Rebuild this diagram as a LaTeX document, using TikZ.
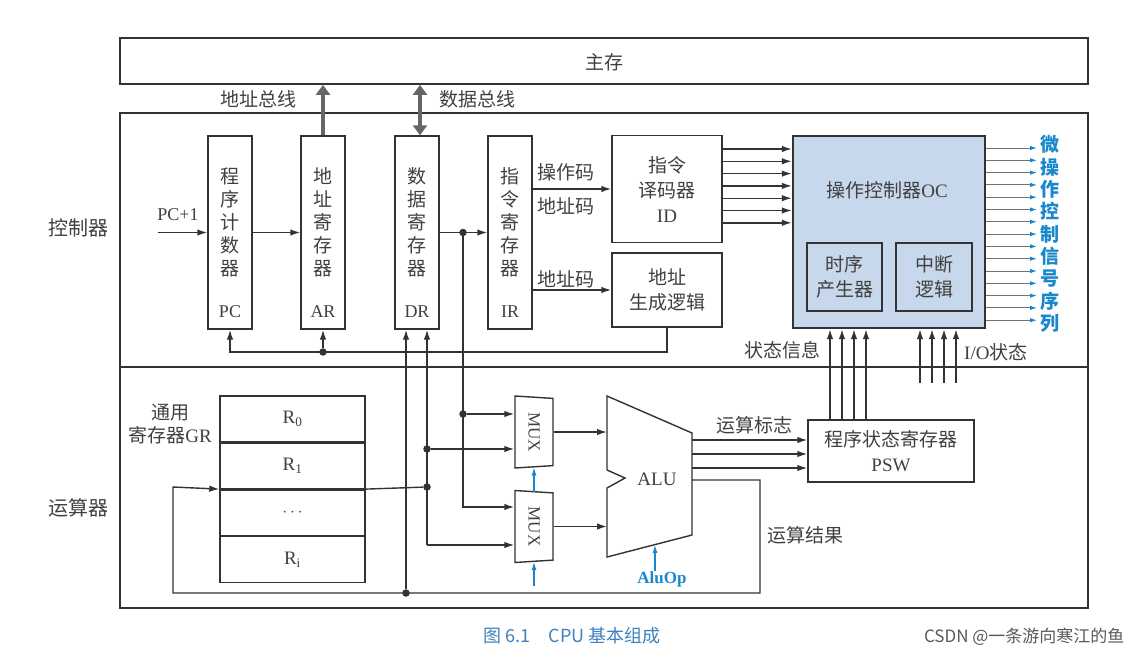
\documentclass[tikz,border=0pt]{standalone}
\usepackage{fontspec}
\setmainfont{Liberation Serif}
\newfontfamily\cjk{Noto Sans CJK SC}
\usetikzlibrary{arrows.meta,positioning,shapes.geometric}
\definecolor{sigblue}{RGB}{25,135,205}
\definecolor{ocfill}{RGB}{200,216,236}
\definecolor{capblue}{RGB}{60,130,190}
\tikzset{
  frame/.style={draw, line width=1.8pt, inner sep=0pt},
  reg/.style={draw, line width=1.4pt, minimum width=44pt, minimum height=193pt, inner sep=0pt},
  blk/.style={draw, line width=1.4pt, inner sep=0pt, align=center, font=\cjk\fontsize{19}{25}\selectfont},
  zh/.style={font=\cjk\fontsize{19}{23}\selectfont, align=center, inner sep=0pt},
  en/.style={font=\fontsize{18}{22}\selectfont, inner sep=0pt},
  sig/.style={line width=1.4pt, -{Latex[length=10pt,width=6.5pt]}},
  bsig/.style={line width=1.1pt, sigblue, -{Latex[length=8pt,width=5pt]}},
  bus/.style={line width=4.5pt, black!60},
  dot/.style={circle, fill, inner sep=0pt, minimum size=7.5pt},
  mux/.style={draw, line width=1.4pt, trapezium, trapezium stretches body, trapezium angle=78,
    minimum width=72pt, minimum height=38pt, rotate=-90, inner sep=0pt, font=\fontsize{17}{17}\selectfont},
  gr/.style={draw, line width=1.4pt, minimum width=145pt, minimum height=45.5pt, inner sep=0pt, font=\fontsize{19}{19}\selectfont},
}

\begin{document}
\begin{tikzpicture}[x=1pt,y=-1pt,color=black!80,text=black!75]
  \useasboundingbox (0,0) rectangle (1140,656);

  % memory, controller and ALU part
  \node[frame, minimum width=968pt, minimum height=46pt]  (mem)  at (604,61) {};
  \node[zh] (memtxt) at (604,62) {主存};
  \node[frame, minimum width=968pt, minimum height=254pt] (ctrl) at (604,240) {};
  \node[frame, minimum width=968pt, minimum height=241pt] (calc) at (604,487.5) {};
  \node[zh, font=\cjk\fontsize{20}{20}\selectfont] (ctrltxt) at (78,228) {控制器};
  \node[zh, font=\cjk\fontsize{20}{20}\selectfont] (calctxt) at (78,508) {运算器};

  % registers
  \node[reg] (pc) at (230,232.5) {};
  \node[reg] (ar) at (323,232.5) {};
  \node[reg] (dr) at (417,232.5) {};
  \node[reg] (ir) at (510,232.5) {};
  \node[zh] (pctxt) at (230,222) {程\\序\\计\\数\\器};
  \node[zh] (artxt) at (323,222) {地\\址\\寄\\存\\器};
  \node[zh] (drtxt) at (417,222) {数\\据\\寄\\存\\器};
  \node[zh] (irtxt) at (510,222) {指\\令\\寄\\存\\器};
  \node[en] (pclbl) at (230,312) {PC};
  \node[en] (arlbl) at (323,312) {AR};
  \node[en] (drlbl) at (417,312) {DR};
  \node[en] (irlbl) at (510,312) {IR};

  \node[blk, minimum width=110pt, minimum height=107pt] (id)   at (667,189) {指令\\译码器\\{\rmfamily ID}};
  \node[blk, minimum width=110pt, minimum height=74pt]  (agen) at (667,290) {地址\\生成逻辑};
  \node[draw, line width=2.4pt, fill=ocfill, minimum width=192pt, minimum height=192pt] (oc) at (889,232) {};
  \node[zh] (octxt) at (887,190) {操作控制器{\rmfamily OC}};
  \node[blk, minimum width=75pt, minimum height=68pt] (tim)  at (844.5,277) {时序\\产生器};
  \node[blk, minimum width=76pt, minimum height=68pt] (intr) at (934,277) {中断\\逻辑};
  \node[blk, minimum width=166pt, minimum height=62pt] (psw) at (891,451) {程序状态寄存器\\{\rmfamily PSW}};

  % general registers
  \node[gr] (r0) at (292.5,418.75) {R\textsubscript{0}};
  \node[gr, below=0pt of r0] (r1) {R\textsubscript{1}};
  \node[gr, below=0pt of r1] (rd) {$\cdots$};
  \node[gr, below=0pt of rd] (ri) {R\textsubscript{i}};
  \node[zh] (grtxt) at (170,424) {通用\\寄存器{\rmfamily GR}};

  % mux and alu
  \node[mux] (mux1) at (534,432) {MUX};
  \node[mux] (mux2) at (534,526.5) {MUX};
  \draw[line width=1.4pt] (607,396) -- (692,433) -- (692,535) -- (607,557) -- (607,488) -- (625,478) -- (607,470) -- cycle;
  \node[en, font=\fontsize{19}{19}\selectfont] (alu) at (657,479) {ALU};
  \coordinate (alul) at (607,479);
  \coordinate (alur) at (692,480);
  \coordinate (aluop) at (655,545);

  % buses
  \draw[bus, -{Triangle[length=10pt,width=14pt]}] (ar.north) -- (ar.north |- mem.south);
  \draw[bus, {Triangle[length=10pt,width=14pt]}-{Triangle[length=10pt,width=14pt]}] ([xshift=3pt]dr.north) -- ([xshift=3pt]dr.north |- mem.south);
  \node[zh] (abus) at (258,99) {地址总线};
  \node[zh] (dbus) at (477,99) {数据总线};

  % controller wiring
  \coordinate (pcin) at (158,232.5);
  \draw[sig] (pcin) -- (pc.west);
  \node[en] (pcinc) at (178,215) {PC+1};
  \draw[sig] (pc.east) -- (ar.west);
  \draw[sig] (dr.east) -- (ir.west);
  \node[dot] (d0) at (463,232.5) {};
  \draw[sig] (ir.east |- id.west) -- (id.west);
  \node[zh] (opc) at (566,172) {操作码};
  \node[zh] (adc) at (566,206) {地址码};
  \draw[sig] (ir.east |- agen.west) -- (agen.west);
  \node[zh] (adc2) at (566,279) {地址码};
  \coordinate (fbl) at (230,352);
  \draw[sig] (agen.south) |- (fbl) -- (pc.south);
  \node[dot] (fbdot) at (ar.south |- fbl) {};
  \draw[sig] (fbdot) -- (ar.south);
  \foreach \i in {0,...,6}
    \draw[sig] (id.east |- 0,149+12.3*\i) -- (oc.west |- 0,149+12.3*\i);
  \coordinate (sigend) at (1037,0);
  \foreach \i in {0,...,14}
    \draw[line width=1pt, black!55, -{Latex[length=7pt,width=4.5pt,color=sigblue]}] (oc.east |- 0,148+12.3*\i) -- (sigend |- 0,148+12.3*\i);
  \node[zh, font=\cjk\bfseries\fontsize{19}{22.3}\selectfont, text=sigblue] (sigtxt) at (1050,234) {微\\操\\作\\控\\制\\信\\号\\序\\列};
  \foreach \x in {830,842,854,866}
    \draw[sig] (psw.north -| \x,0) -- (oc.south -| \x,0);
  \node[zh] (stat) at (782,350) {状态信息};
  \foreach \x in {920,932,944,956}
    \draw[sig] (\x,383) -- (oc.south -| \x,0);
  \node[zh, anchor=west] (iost) at (964,352) {{\rmfamily I/O}状态};

  % alu wiring
  \node[dot] (d1) at (463,414) {};
  \draw[sig] (d1) -- (d1 -| mux1.south);
  \draw[sig] (d0) |- (mux2.south |- 0,507);
  \node[dot] (g1) at (406,593) {};
  \node[dot] (g2) at (427,487) {};
  \node[dot] (g3) at (427,449) {};
  \coordinate (b2) at (427,545);
  \draw[sig] (g1) -- (g1 |- dr.south);
  \draw[sig] (b2) -- (b2 |- dr.south);
  \draw[sig] (b2) -- (b2 -| mux2.south);
  \draw[sig] (g3) -- (g3 -| mux1.south);
  \draw[line width=1.4pt] (r1.south east) -- (g2);
  \draw[sig] (mux1.north) -- (mux1.north -| alul);
  \draw[sig] (mux2.north) -- (mux2.north -| alul);
  \draw[bsig] (mux1.east) ++(0,24) -- (mux1.east);
  \draw[bsig] (mux2.east) ++(0,24) -- (mux2.east);
  \node[en, font=\bfseries\fontsize{17}{17}\selectfont, text=sigblue] (aluoptxt) at (662,579) {AluOp};
  \draw[bsig] (aluop |- aluoptxt.north) -- (aluop);
  \foreach \y in {440,454,468}
    \draw[sig] (alur |- 0,\y) -- (psw.west |- 0,\y);
  \node[zh] (flag) at (754,425) {运算标志};
  \coordinate (loopr) at (760,593);
  \coordinate (loopl) at (173,487);
  \draw[sig] (alur) -| (loopr) -| (loopl) -- (r1.south west);
  \node[zh] (result) at (805,535) {运算结果};

  % caption
  \node[font=\cjk\fontsize{18}{18}\selectfont, text=capblue] (cap) at (572,636) {图 6.1\quad CPU 基本组成};
  \node[font=\cjk\fontsize{17}{17}\selectfont, text=black!65, anchor=east] (wm) at (1128,637) {CSDN @一条游向寒江的鱼};
\end{tikzpicture}
\end{document}
